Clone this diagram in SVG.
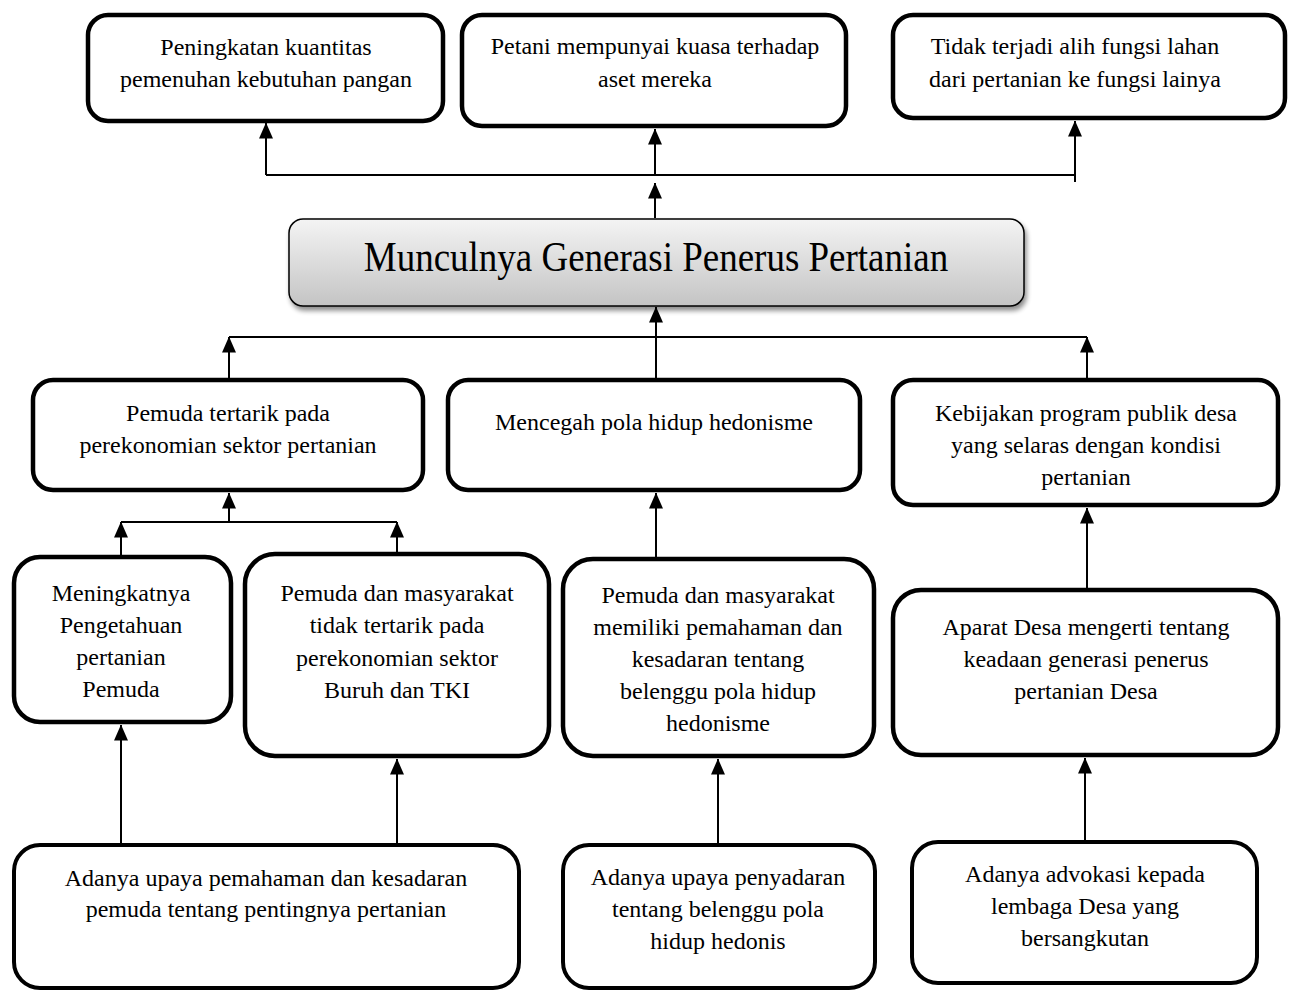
<svg xmlns="http://www.w3.org/2000/svg" width="1292" height="992" viewBox="0 0 1292 992">
<style>
.box{fill:#fff;stroke:#000;stroke-width:4.5}
.bx2{fill:#fff;stroke:#000;stroke-width:4}
.t{font-family:"Liberation Serif","Times New Roman",serif;font-size:24px;fill:#000;text-anchor:middle}
.c{fill:none;stroke:#000;stroke-width:2}
</style>
<defs>
<marker id="ah" markerUnits="userSpaceOnUse" markerWidth="16" markerHeight="16" viewBox="0 0 16 16" refX="15.5" refY="8" orient="auto">
<path d="M0,1 L16,8 L0,15 z" fill="#000"/>
</marker>
<linearGradient id="g" x1="0" y1="0" x2="0" y2="1">
<stop offset="0" stop-color="#f4f4f4"/>
<stop offset="1" stop-color="#c4c4c4"/>
</linearGradient>
<filter id="sh" x="-5%" y="-20%" width="110%" height="150%">
<feGaussianBlur in="SourceAlpha" stdDeviation="2.5"/>
<feOffset dx="2" dy="4" result="o"/>
<feComponentTransfer><feFuncA type="linear" slope="0.45"/></feComponentTransfer>
<feMerge><feMergeNode/><feMergeNode in="SourceGraphic"/></feMerge>
</filter>
</defs>
<g id="connectors">
<path class="c" d="M266,175 H1075"/>
<path class="c" d="M266,175 V123" marker-end="url(#ah)"/>
<path class="c" d="M655,175 V129" marker-end="url(#ah)"/>
<path class="c" d="M1075,182 V121" marker-end="url(#ah)"/>
<path class="c" d="M655,218 V183" marker-end="url(#ah)"/>
<path class="c" d="M229,337 H1087"/>
<path class="c" d="M229,378 V337" marker-end="url(#ah)"/>
<path class="c" d="M1087,378 V337" marker-end="url(#ah)"/>
<path class="c" d="M656,378 V307" marker-end="url(#ah)"/>
<path class="c" d="M229,522 V493" marker-end="url(#ah)"/>
<path class="c" d="M121,522 H397"/>
<path class="c" d="M121,555 V522" marker-end="url(#ah)"/>
<path class="c" d="M397,552 V522" marker-end="url(#ah)"/>
<path class="c" d="M656,557 V493" marker-end="url(#ah)"/>
<path class="c" d="M1087,588 V508" marker-end="url(#ah)"/>
<path class="c" d="M121,843 V725" marker-end="url(#ah)"/>
<path class="c" d="M397,843 V759" marker-end="url(#ah)"/>
<path class="c" d="M718,843 V759" marker-end="url(#ah)"/>
<path class="c" d="M1085,840 V758" marker-end="url(#ah)"/>
</g>
<g id="t1"><rect class="box" x="88" y="15" width="355" height="106" rx="20"/>
<text class="t" x="266" y="55">Peningkatan kuantitas</text><text class="t" x="266" y="87">pemenuhan kebutuhan pangan</text></g>
<g id="t2"><rect class="box" x="462" y="15" width="384" height="111" rx="20"/>
<text class="t" x="655" y="54">Petani mempunyai kuasa terhadap</text><text class="t" x="655" y="87">aset mereka</text></g>
<g id="t3"><rect class="box" x="893" y="15" width="392" height="103" rx="20"/>
<text class="t" x="1075" y="54">Tidak terjadi alih fungsi lahan</text><text class="t" x="1075" y="87">dari pertanian ke fungsi lainya</text></g>
<g id="center"><rect x="289" y="219" width="735" height="87" rx="14" fill="url(#g)" stroke="#000" stroke-width="1.5" filter="url(#sh)"/>
<text class="t" transform="translate(656,271) scale(1,1.15)" x="0" y="0" style="font-size:37px">Munculnya Generasi Penerus Pertanian</text></g>
<g id="m1"><rect class="box" x="33" y="380" width="390" height="110" rx="20"/>
<text class="t" x="228" y="421">Pemuda tertarik pada</text><text class="t" x="228" y="453">perekonomian sektor pertanian</text></g>
<g id="m2"><rect class="box" x="448" y="380" width="412" height="110" rx="20"/>
<text class="t" x="654" y="430">Mencegah pola hidup hedonisme</text></g>
<g id="m3"><rect class="box" x="893" y="380" width="385" height="125" rx="20"/>
<text class="t" x="1086" y="421">Kebijakan program publik desa</text><text class="t" x="1086" y="453">yang selaras dengan kondisi</text><text class="t" x="1086" y="485">pertanian</text></g>
<g id="r1"><rect class="box" x="14" y="557" width="217" height="165" rx="26"/>
<text class="t" x="121" y="601">Meningkatnya</text><text class="t" x="121" y="633">Pengetahuan</text><text class="t" x="121" y="665">pertanian</text><text class="t" x="121" y="697">Pemuda</text></g>
<g id="r2"><rect class="box" x="245" y="554" width="304" height="202" rx="30"/>
<text class="t" x="397" y="601">Pemuda dan masyarakat</text><text class="t" x="397" y="633">tidak tertarik pada</text><text class="t" x="397" y="666">perekonomian sektor</text><text class="t" x="397" y="698">Buruh dan TKI</text></g>
<g id="r3"><rect class="box" x="563" y="559" width="311" height="197" rx="30"/>
<text class="t" x="718" y="603">Pemuda dan masyarakat</text><text class="t" x="718" y="635">memiliki pemahaman dan</text><text class="t" x="718" y="667">kesadaran tentang</text><text class="t" x="718" y="699">belenggu pola hidup</text><text class="t" x="718" y="731">hedonisme</text></g>
<g id="r4"><rect class="box" x="893" y="590" width="385" height="165" rx="28"/>
<text class="t" x="1086" y="635">Aparat Desa mengerti tentang</text><text class="t" x="1086" y="667">keadaan generasi penerus</text><text class="t" x="1086" y="699">pertanian Desa</text></g>
<g id="b1"><rect class="bx2" x="14" y="845" width="505" height="143" rx="26"/>
<text class="t" x="266" y="886">Adanya upaya pemahaman dan kesadaran</text><text class="t" x="266" y="917">pemuda tentang pentingnya pertanian</text></g>
<g id="b2"><rect class="bx2" x="563" y="845" width="312" height="143" rx="26"/>
<text class="t" x="718" y="885">Adanya upaya penyadaran</text><text class="t" x="718" y="917">tentang belenggu pola</text><text class="t" x="718" y="949">hidup hedonis</text></g>
<g id="b3"><rect class="bx2" x="912" y="842" width="345" height="141" rx="26"/>
<text class="t" x="1085" y="882">Adanya advokasi kepada</text><text class="t" x="1085" y="914">lembaga Desa yang</text><text class="t" x="1085" y="946">bersangkutan</text></g>
</svg>
